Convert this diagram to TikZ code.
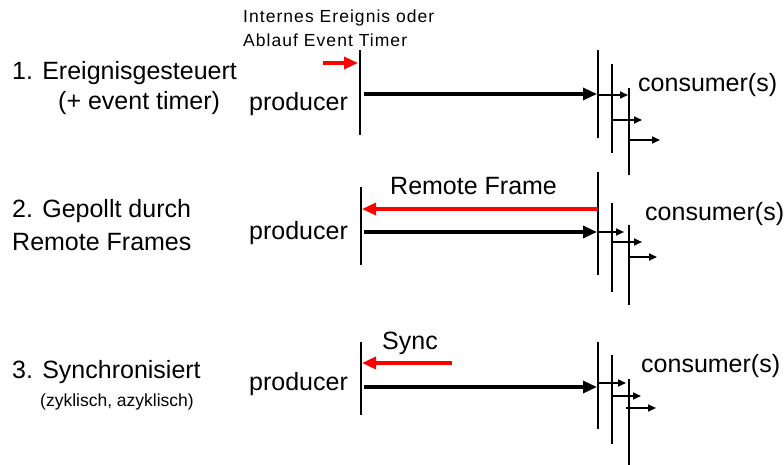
\documentclass[tikz,border=0pt]{standalone}
\usepackage{fontspec}
\setmainfont{Liberation Sans}
\newfontfamily\notefont[LetterSpace=6]{Liberation Sans}
\usetikzlibrary{arrows.meta}

\begin{document}
\begin{tikzpicture}[x=1pt,y=-1pt,
  txt/.style={anchor=base west, inner sep=0pt, font=\fontsize{25}{30}\selectfont},
  note/.style={anchor=base west, inner sep=0pt, font=\notefont\fontsize{17.5}{21}\selectfont},
  subtxt/.style={anchor=base west, inner sep=0pt, font=\fontsize{17.5}{21}\selectfont},
  bar/.style={line width=1.8pt, black},
  msg/.style={line width=3.3pt, -{Triangle[length=14pt,width=12pt]}},
  rmsg/.style={msg, red},
  fwd/.style={line width=1.6pt, -{Triangle[length=8pt,width=7pt]}}
]
\useasboundingbox (0,0) rectangle (784,465);

% ---------- 1. event driven ----------
\node[txt] (l1a) at (12,80) {1. Ereignisgesteuert};
\node[txt] (l1b) at (58,110) {(+ event timer)};
\node[note] (n1a) at (243,23) {Internes Ereignis oder};
\node[note] (n1b) at (243,47) {Ablauf Event Timer};
\node[txt] (pr1) at (249,111) {producer};
\node[txt] (co1) at (638,92) {consumer(s)};

\coordinate (p1t) at (360,50);  \coordinate (p1b) at (360,135);
\coordinate (a1t) at (598,50);  \coordinate (a1b) at (598,138);
\coordinate (b1t) at (612,64);  \coordinate (b1b) at (612,153);
\coordinate (c1t) at (629,88);  \coordinate (c1b) at (629,175);
\draw[bar] (p1t) -- (p1b);
\draw[bar] (a1t) -- (a1b);
\draw[bar] (b1t) -- (b1b);
\draw[bar] (c1t) -- (c1b);

\coordinate (ev1) at (323,63);  \coordinate (ev2) at (358,63);
\draw[rmsg] (ev1) -- (ev2);
\coordinate (s1) at (364,94);   \coordinate (e1) at (597,94);
\draw[msg] (s1) -- (e1);
\coordinate (f1s) at (598,95);  \coordinate (f1e) at (628,95);
\coordinate (f2s) at (612,120); \coordinate (f2e) at (642,120);
\coordinate (f3s) at (629,140); \coordinate (f3e) at (660,140);
\draw[fwd] (f1s) -- (f1e);
\draw[fwd] (f2s) -- (f2e);
\draw[fwd] (f3s) -- (f3e);

% ---------- 2. polled by remote frames ----------
\node[txt] (l2a) at (12,218) {2. Gepollt durch};
\node[txt] (l2b) at (12,250) {Remote Frames};
\node[txt] (rf) at (390,195) {Remote Frame};
\node[txt] (pr2) at (249,240) {producer};
\node[txt] (co2) at (645,220) {consumer(s)};

\coordinate (p2t) at (361,187); \coordinate (p2b) at (361,265);
\coordinate (a2t) at (598,172); \coordinate (a2b) at (598,275);
\coordinate (b2t) at (612,203); \coordinate (b2b) at (612,292);
\coordinate (c2t) at (629,225); \coordinate (c2b) at (629,305);
\draw[bar] (p2t) -- (p2b);
\draw[bar] (a2t) -- (a2b);
\draw[bar] (b2t) -- (b2b);
\draw[bar] (c2t) -- (c2b);

\coordinate (r2s) at (598,209); \coordinate (r2e) at (362,209);
\draw[rmsg] (r2s) -- (r2e);
\coordinate (s2) at (364,232);  \coordinate (e2) at (597,232);
\draw[msg] (s2) -- (e2);
\coordinate (g1s) at (598,232); \coordinate (g1e) at (624,232);
\coordinate (g2s) at (612,242); \coordinate (g2e) at (642,242);
\coordinate (g3s) at (629,257); \coordinate (g3e) at (657,257);
\draw[fwd] (g1s) -- (g1e);
\draw[fwd] (g2s) -- (g2e);
\draw[fwd] (g3s) -- (g3e);

% ---------- 3. synchronised ----------
\node[txt] (l3a) at (12,378) {3. Synchronisiert};
\node[subtxt] (l3b) at (40,406) {(zyklisch, azyklisch)};
\node[txt] (sy) at (382,349) {Sync};
\node[txt] (pr3) at (249,390) {producer};
\node[txt] (co3) at (641,372) {consumer(s)};

\coordinate (p3t) at (361,342); \coordinate (p3b) at (361,415);
\coordinate (a3t) at (598,342); \coordinate (a3b) at (598,429);
\coordinate (b3t) at (612,355); \coordinate (b3b) at (612,444);
\coordinate (c3t) at (629,379); \coordinate (c3b) at (629,465);
\draw[bar] (p3t) -- (p3b);
\draw[bar] (a3t) -- (a3b);
\draw[bar] (b3t) -- (b3b);
\draw[bar] (c3t) -- (c3b);

\coordinate (r3s) at (452,363); \coordinate (r3e) at (362,363);
\draw[rmsg] (r3s) -- (r3e);
\coordinate (s3) at (364,387);  \coordinate (e3) at (597,387);
\draw[msg] (s3) -- (e3);
\coordinate (h1s) at (598,383); \coordinate (h1e) at (626,383);
\coordinate (h2s) at (612,396); \coordinate (h2e) at (641,396);
\coordinate (h3s) at (626,408); \coordinate (h3e) at (656,408);
\draw[fwd] (h1s) -- (h1e);
\draw[fwd] (h2s) -- (h2e);
\draw[fwd] (h3s) -- (h3e);
\end{tikzpicture}
\end{document}
